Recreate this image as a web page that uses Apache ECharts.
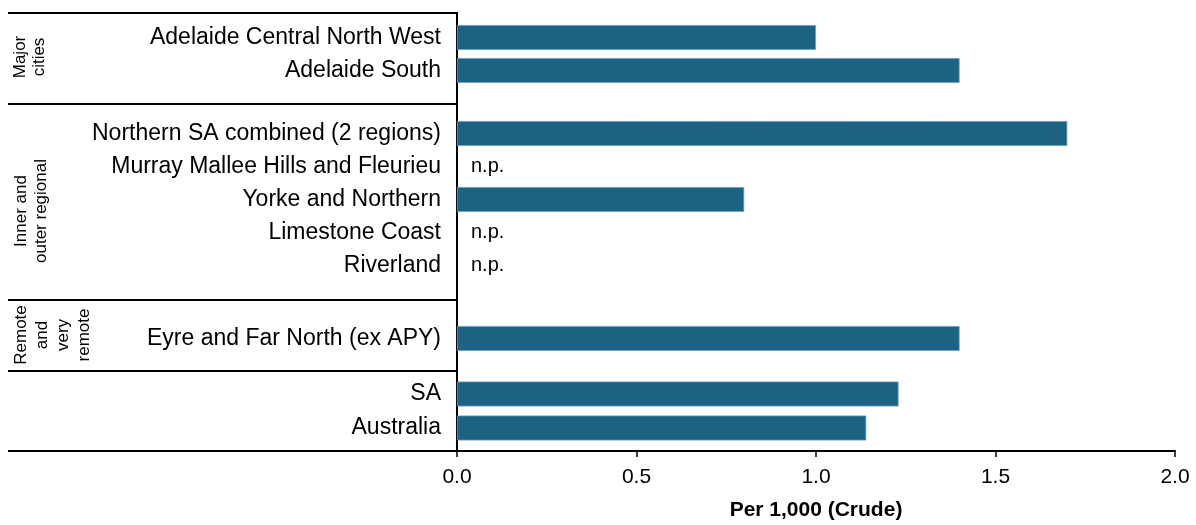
<!DOCTYPE html>
<html>
<head>
<meta charset="utf-8">
<script src="https://cdn.jsdelivr.net/npm/echarts@6/dist/echarts.min.js"></script>
<style>
html,body{margin:0;padding:0;background:#fff;}
#chart{width:1196px;height:525px;}
</style>
</head>
<body>
<div id="chart"></div>
<script>
// ---- data ----
const groupNames = ['Major\ncities', 'Inner and\nouter regional', 'Remote\nand\nvery\nremote', ''];
const majorCats = ['Adelaide Central North West', 'Adelaide South'];
const majorVals = [1.0, 1.4];
const regionalCats = ['Northern SA combined (2 regions)', 'Murray Mallee Hills and Fleurieu', 'Yorke and Northern', 'Limestone Coast', 'Riverland'];
const regionalVals = [1.7, null, 0.8, null, null];
const remoteCats = ['Eyre and Far North (ex APY)'];
const remoteVals = [1.4];
const totalCats = ['SA', 'Australia'];
const totalVals = [1.23, 1.14];
const xMin = 0, xMax = 2, xInterval = 0.5;
const xTitle = 'Per 1,000 (Crude)';
const npLabel = 'n.p.';

// ---- layout ----
const FONT = '"Liberation Sans", Arial, sans-serif';
const LEFT = 457, RIGHT = 21;
const BAR_COLOR = '#1b6283';
const grids = [
  {top: 21, height: 66},
  {top: 117, height: 165},
  {top: 322, height: 33},
  {top: 377, height: 68}
];
const cats = [majorCats, regionalCats, remoteCats, totalCats];
const vals = [majorVals, regionalVals, remoteVals, totalVals];
const sepY = [13, 104, 300, 371, 451];
const groupLabelPos = [[30, 57, 19], [31, 211, 20], [53, 335, 21]];

const chart = echarts.init(document.getElementById('chart'), null, {renderer: 'canvas'});

const option = {
  animation: false,
  backgroundColor: '#fff',
  textStyle: {fontFamily: FONT},
  grid: grids.map(g => ({left: LEFT, right: RIGHT, top: g.top, height: g.height, containLabel: false})),
  xAxis: grids.map((g, i) => {
    const last = i === grids.length - 1;
    return {
      type: 'value', gridIndex: i, min: xMin, max: xMax, interval: xInterval,
      show: last,
      offset: last ? 6 : 0,
      axisLine: {show: true, lineStyle: {color: '#000', width: 2}},
      axisTick: {show: true, length: 6, lineStyle: {color: '#000', width: 1.5}},
      axisLabel: {show: true, fontSize: 21, color: '#000', margin: 16, fontFamily: FONT,
                  formatter: v => v.toFixed(1)},
      splitLine: {show: false},
      name: last ? xTitle : '',
      nameLocation: 'middle', nameGap: 49,
      nameTextStyle: {fontSize: 21, fontWeight: 'bold', color: '#000', fontFamily: FONT}
    };
  }),
  yAxis: grids.map((g, i) => ({
    type: 'category', gridIndex: i, data: cats[i], inverse: true,
    axisLine: {show: false}, axisTick: {show: false}, splitLine: {show: false},
    axisLabel: {fontSize: 23, color: '#000', margin: 16, fontFamily: FONT}
  })),
  series: grids.map((g, i) => ({
    type: 'bar', xAxisIndex: i, yAxisIndex: i, barWidth: 25,
    itemStyle: {color: BAR_COLOR, borderColor: '#6f9fba', borderWidth: 0.8},
    data: vals[i].map(v => v === null
      ? {value: 0, itemStyle: {borderWidth: 0},
         label: {show: true, position: 'right', distance: 14, formatter: npLabel,
                 fontSize: 20, color: '#000', fontFamily: FONT}}
      : v)
  })),
  graphic: [
    ...sepY.map(y => ({
      type: 'line', silent: true,
      shape: {x1: 8, y1: y, x2: LEFT, y2: y},
      style: {stroke: '#000', lineWidth: 2}
    })),
    {type: 'line', silent: true, shape: {x1: LEFT, y1: sepY[0] - 1, x2: LEFT, y2: sepY[4] + 1},
     style: {stroke: '#000', lineWidth: 2}},
    ...groupLabelPos.map((p, i) => ({
      type: 'text', silent: true, x: p[0], y: p[1], rotation: Math.PI / 2,
      style: {text: groupNames[i], fill: '#000', fontSize: 17, fontFamily: FONT,
              align: 'center', verticalAlign: 'middle', textAlign: 'center',
              textVerticalAlign: 'middle', lineHeight: p[2]}
    }))
  ]
};
chart.setOption(option);
</script>
</body>
</html>
